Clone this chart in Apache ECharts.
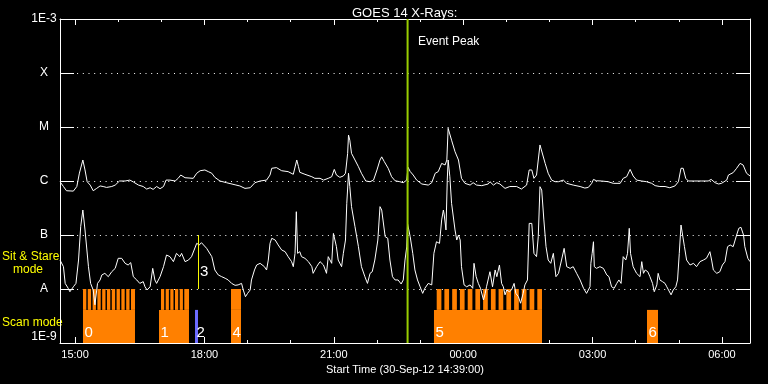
<!DOCTYPE html>
<html><head><meta charset="utf-8">
<script src="https://cdn.jsdelivr.net/npm/echarts@6/dist/echarts.min.js"></script>
<style>html,body{margin:0;padding:0;background:#000}#c{width:768px;height:384px}</style>
</head><body><div id="c"></div>
<script>
// Times are clock hours on 30-Sep-12 (values >24 are on 01-Oct-12)
const upperTime = [14.65,14.73,14.80,14.96,15.04,15.10,15.18,15.23,15.28,15.35,15.42,15.50,15.58,15.65,15.73,15.85,15.93,16.03,16.16,16.27,16.35,16.47,16.58,16.66,16.74,16.81,16.89,16.97,17.05,17.11,17.20,17.32,17.39,17.45,17.55,17.74,17.82,17.90,18.01,18.09,18.17,18.24,18.36,18.51,18.71,18.82,18.94,19.06,19.17,19.29,19.44,19.52,19.56,19.67,19.79,19.94,20.06,20.10,20.14,20.18,20.21,20.33,20.49,20.56,20.68,20.76,20.87,20.95,21.01,21.06,21.14,21.22,21.27,21.32,21.34,21.37,21.41,21.49,21.57,21.64,21.74,21.84,21.92,22.00,22.07,22.11,22.17,22.26,22.34,22.42,22.53,22.61,22.69,22.72,22.77,22.84,22.92,23.04,23.19,23.27,23.35,23.42,23.50,23.58,23.62,23.65,23.69,23.73,23.81,23.89,23.96,24.04,24.16,24.23,24.31,24.43,24.58,24.62,24.70,24.78,24.85,24.97,25.08,25.24,25.35,25.47,25.53,25.59,25.64,25.70,25.78,25.82,25.90,25.97,26.05,26.13,26.21,26.32,26.40,26.55,26.71,26.82,26.90,26.98,27.02,27.09,27.21,27.36,27.48,27.64,27.71,27.79,27.87,27.94,28.02,28.14,28.25,28.37,28.45,28.56,28.68,28.79,28.91,28.99,29.05,29.10,29.16,29.22,29.37,29.53,29.68,29.75,29.84,29.92,29.99,30.11,30.15,30.26,30.34,30.42,30.49,30.57,30.65];
const upperFlux = [9.7e-7,7.9e-7,6.6e-7,6.5e-7,7.9e-7,1.4e-6,2.45e-6,1.6e-6,9.7e-7,8.4e-7,6.6e-7,7.3e-7,8.1e-7,7.9e-7,7.6e-7,7.9e-7,8.4e-7,1.0e-6,1.0e-6,1.04e-6,9.6e-7,8.4e-7,7.9e-7,7.1e-7,7.5e-7,7.0e-7,7.9e-7,7.2e-7,7.9e-7,1.04e-6,1.04e-6,1.0e-6,1.12e-6,1.29e-6,1.15e-6,1.12e-6,1.39e-6,1.55e-6,1.6e-6,1.49e-6,1.39e-6,1.17e-6,1.0e-6,9.3e-7,8.5e-7,8.1e-7,7.3e-7,7.5e-7,9.3e-7,1.0e-6,1.04e-6,1.29e-6,1.72e-6,1.77e-6,1.55e-6,1.49e-6,1.33e-6,1.43e-6,2.45e-6,1.84e-6,1.45e-6,1.33e-6,1.2e-6,1.12e-6,1.12e-6,1.04e-6,1.12e-6,1.2e-6,1.64e-6,1.29e-6,1.17e-6,1.24e-6,1.39e-6,3.25e-6,7.1e-6,5.7e-6,3.25e-6,2.45e-6,1.84e-6,1.39e-6,1.0e-6,9.7e-7,1.04e-6,1.6e-6,2.45e-6,2.8e-6,2.28e-6,1.72e-6,1.2e-6,1.01e-6,9.7e-7,9.3e-7,1.04e-6,1.8e-6,1.5e-6,1.29e-6,1.04e-6,8.8e-7,8.4e-7,9.3e-7,1.39e-6,1.49e-6,2.12e-6,1.98e-6,2.45e-6,9.45e-6,8.8e-6,5.7e-6,3.49e-6,2.45e-6,1.12e-6,9.05e-7,8.4e-7,9.3e-7,8.4e-7,8.2e-7,8.8e-7,9.7e-7,8.4e-7,9.3e-7,8.8e-7,7.3e-7,7.9e-7,7.9e-7,7.1e-7,8.4e-7,1.6e-6,1.6e-6,1.12e-6,1.29e-6,4.65e-6,4.32e-6,2.12e-6,1.39e-6,1.04e-6,9.7e-7,9.7e-7,1.04e-6,9.05e-7,8.4e-7,7.9e-7,7.4e-7,7.6e-7,9.05e-7,1.07e-6,1.01e-6,1.0e-6,9.7e-7,9.05e-7,9.05e-7,1.12e-6,1.2e-6,1.64e-6,1.24e-6,1.04e-6,1.0e-6,9.7e-7,9.05e-7,8.2e-7,7.9e-7,7.9e-7,7.5e-7,8.1e-7,9.7e-7,1.72e-6,1.72e-6,1.12e-6,1.0e-6,1.0e-6,1.0e-6,1.0e-6,1.07e-6,9.3e-7,8.8e-7,9.05e-7,1.04e-6,1.29e-6,1.43e-6,1.72e-6,2.12e-6,1.98e-6,1.39e-6,1.24e-6];

const lowerTime = [14.65,14.73,14.77,14.84,14.88,14.96,15.02,15.08,15.13,15.18,15.23,15.31,15.36,15.42,15.46,15.52,15.58,15.62,15.69,15.77,15.85,15.93,16.00,16.08,16.16,16.23,16.29,16.35,16.43,16.50,16.58,16.62,16.67,16.74,16.80,16.85,16.89,16.97,17.05,17.12,17.20,17.28,17.35,17.43,17.47,17.55,17.63,17.70,17.82,17.88,17.93,18.05,18.17,18.24,18.32,18.40,18.48,18.55,18.63,18.71,18.78,18.86,18.90,18.95,19.00,19.06,19.09,19.16,19.21,19.29,19.33,19.39,19.44,19.48,19.52,19.56,19.64,19.71,19.79,19.87,19.94,20.02,20.06,20.10,20.13,20.16,20.21,20.25,20.33,20.41,20.49,20.52,20.60,20.68,20.76,20.83,20.87,20.91,20.95,20.99,21.03,21.06,21.10,21.14,21.18,21.22,21.27,21.30,21.34,21.37,21.41,21.49,21.57,21.64,21.72,21.78,21.84,21.89,21.95,22.02,22.07,22.11,22.19,22.25,22.30,22.36,22.42,22.49,22.56,22.61,22.65,22.69,22.71,22.77,22.83,22.88,22.94,23.00,23.06,23.11,23.19,23.27,23.32,23.38,23.45,23.50,23.54,23.56,23.60,23.63,23.65,23.69,23.73,23.81,23.85,23.89,23.93,23.96,24.02,24.08,24.16,24.22,24.25,24.30,24.35,24.40,24.47,24.51,24.54,24.62,24.68,24.74,24.78,24.84,24.89,24.93,24.97,25.01,25.07,25.12,25.18,25.22,25.28,25.33,25.39,25.43,25.49,25.53,25.59,25.64,25.70,25.74,25.78,25.82,25.87,25.92,25.97,26.03,26.09,26.15,26.21,26.28,26.34,26.40,26.48,26.55,26.63,26.71,26.79,26.82,26.86,26.90,26.94,26.96,26.99,27.02,27.04,27.09,27.17,27.25,27.33,27.38,27.44,27.50,27.56,27.61,27.66,27.71,27.77,27.81,27.85,27.88,27.94,28.02,28.10,28.14,28.18,28.22,28.28,28.33,28.39,28.43,28.49,28.52,28.56,28.62,28.68,28.72,28.76,28.82,28.87,28.93,28.97,29.01,29.05,29.08,29.13,29.18,29.26,29.34,29.41,29.49,29.57,29.64,29.72,29.76,29.80,29.88,29.95,30.01,30.07,30.13,30.19,30.26,30.34,30.39,30.44,30.50,30.53,30.60,30.65];
const lowerFlux = [3.44e-8,2.59e-8,1.27e-8,1.03e-8,8.9e-9,1.1e-8,1.27e-8,3.44e-8,1.43e-7,2.9e-7,1.24e-7,2.59e-8,1.27e-8,9.6e-9,5.1e-9,1.27e-8,1.47e-8,1.82e-8,1.95e-8,1.69e-8,2.09e-8,2.41e-8,3.7e-8,3.7e-8,2.99e-8,2.78e-8,3.08e-8,1.69e-8,1.47e-8,1.27e-8,1.37e-8,1.1e-8,9.6e-9,1.1e-8,2.41e-8,1.47e-8,1.27e-8,1.69e-8,2.59e-8,4.26e-8,3.97e-8,3.21e-8,4.57e-8,3.97e-8,4.57e-8,3.21e-8,3.44e-8,3.97e-8,7.01e-8,6.53e-8,7.21e-8,5.66e-8,3.97e-8,2.25e-8,1.82e-8,1.69e-8,1.58e-8,1.47e-8,1.27e-8,1.17e-8,1.19e-8,1.27e-8,9.6e-9,7.2e-9,8.3e-9,9.6e-9,1.47e-8,2.25e-8,2.78e-8,2.99e-8,3.21e-8,2.59e-8,2.25e-8,3.44e-8,7.0e-8,8.68e-8,8.07e-8,6.53e-8,5.28e-8,4.91e-8,3.97e-8,3.21e-8,2.59e-8,4.57e-8,2.7e-7,4.57e-8,4.91e-8,3.97e-8,3.7e-8,3.21e-8,2.59e-8,1.95e-8,2.59e-8,3.21e-8,2.78e-8,1.95e-8,3.97e-8,4.26e-8,2.99e-8,1.07e-7,1.15e-7,6.08e-8,3.44e-8,3.21e-8,2.59e-8,4.57e-8,8.07e-8,3.86e-7,1.39e-6,7.85e-7,3.35e-7,1.43e-7,6.08e-8,2.59e-8,1.69e-8,1.27e-8,1.95e-8,2.09e-8,3.44e-8,8.07e-8,3.35e-7,2.9e-7,9.3e-8,8.68e-8,3.44e-8,1.69e-8,1.47e-8,1.47e-8,1.24e-8,1.47e-8,3.44e-8,6.0e-8,1.6e-7,9.3e-8,4.57e-8,2.25e-8,1.47e-8,1.1e-8,8.3e-9,1.03e-8,1.27e-8,1.19e-8,4.57e-8,7.5e-8,7.0e-8,1.9e-7,2.9e-7,2.35e-7,1.24e-7,1.04e-6,2.45e-6,1.2e-6,3.86e-7,1.24e-7,8.07e-8,1.0e-7,8.07e-8,2.59e-8,1.19e-8,1.1e-8,1.19e-8,1.03e-8,2.99e-8,1.69e-8,1.27e-8,1.03e-8,6.26e-9,8.3e-9,1.1e-8,2.09e-8,1.1e-8,2.25e-8,1.69e-8,2.78e-8,1.27e-8,1.1e-8,7.8e-9,9.6e-9,8.9e-9,9.6e-9,1.27e-8,8.3e-9,7.2e-9,5.45e-9,8.3e-9,1.19e-8,1.47e-8,1.64e-7,1.64e-7,4.57e-8,3.97e-8,9.3e-8,7.85e-7,6.8e-7,1.9e-7,6.08e-8,3.44e-8,2.99e-8,4.57e-8,1.69e-8,1.95e-8,3.44e-8,5.66e-8,2.59e-8,2.41e-8,2.59e-8,1.95e-8,1.47e-8,1.03e-8,1.06e-8,8.3e-9,7.8e-9,1.1e-8,2.99e-8,4.57e-8,7.5e-8,2.59e-8,2.41e-8,2.59e-8,2.41e-8,1.82e-8,1.69e-8,1.1e-8,1.03e-8,1.27e-8,1.47e-8,1.27e-8,3.97e-8,3.44e-8,4.57e-8,1.33e-7,4.57e-8,2.59e-8,1.95e-8,1.69e-8,3.21e-8,1.95e-8,2.25e-8,2.09e-8,1.69e-8,1.27e-8,8.9e-9,1.19e-8,1.95e-8,1.47e-8,1.37e-8,1.27e-8,1.1e-8,9.6e-9,7.8e-9,9.6e-9,1.1e-8,1.47e-8,4.57e-8,1.53e-7,1.43e-7,6.08e-8,3.44e-8,2.78e-8,2.99e-8,2.59e-8,3.21e-8,3.44e-8,3.7e-8,4.91e-8,3.44e-8,2.25e-8,1.95e-8,2.09e-8,2.78e-8,3.21e-8,6.08e-8,6.53e-8,6.08e-8,1.0e-7,1.33e-7,1.39e-7,1.0e-7,6.08e-8,3.7e-8,3.21e-8];

// Scan-mode observations (lower band) with their ids
const scanLabels = ['0','1','2','4','5','6'];
const scanStart  = [15.183,16.946,17.780,18.615,23.322,28.262];
const scanEnd    = [16.389,17.641,17.850,18.847,25.827,28.517];
const scanColor  = ['#ff8000','#ff8000','#6b6bff','#ff8000','#ff8000','#ff8000'];
// Individual rasters (upper band)
const rasterStart = [15.183,15.294,15.406,15.517,15.628,15.739,15.851,15.962,16.073,16.185,16.296,
  16.992,17.101,17.208,17.317,17.426,17.532,
  18.615,
  23.385,23.563,23.744,23.923,24.104,24.282,24.461,24.642,24.820,25.001,25.180,25.358,25.539,25.718];
const rasterEnd = [15.260,15.371,15.483,15.594,15.705,15.816,15.928,16.039,16.150,16.262,16.389,
  17.066,17.175,17.282,17.391,17.500,17.641,
  18.847,
  23.494,23.672,23.853,24.032,24.213,24.391,24.570,24.751,24.929,25.110,25.289,25.467,25.648,25.827];
// Sit & stare observation
const sitLabels = ['3'];
const sitTime = [17.862];
const eventPeakTime = 22.71;

const yTickNames = ['1E-9','A','B','C','M','X','1E-3'];
const yTickValues = [1e-9,1e-8,1e-7,1e-6,1e-5,1e-4,1e-3];
const majorHours = [15,18,21,24,27,30];
const minorHours = [15,16,17,18,19,20,21,22,23,24,25,26,27,28,29,30];
const xMin = 14.65, xMax = 30.65;
const bandTop = 1e-8, bandMid = 4.1e-9, bandBottom = 1e-9;

const FONT = '"Liberation Sans", Arial, sans-serif';
const chart = echarts.init(document.getElementById('c'));

const upperData = upperTime.map((t,i)=>[t, upperFlux[i]]);
const lowerData = lowerTime.map((t,i)=>[t, lowerFlux[i]]);
const scanData = scanStart.map((s,i)=>[s, scanEnd[i], bandMid, bandBottom, i]);
const rasterData = rasterStart.map((s,i)=>[s, rasterEnd[i], bandTop, bandMid]);
const labelData = scanStart.map((s,i)=>[s, 1.55e-9, scanLabels[i]]).concat(sitTime.map((s,i)=>[s, 2.1e-8, sitLabels[i]]));

function hourLabel(v){ const h = Math.round(v) % 24; return (h<10?'0':'')+h+':00'; }
function yName(v){ const i = Math.round(Math.log10(v)) + 9; return yTickNames[i] || ''; }

function rectItem(params, api, fill){
  const p0 = api.coord([api.value(0), api.value(2)]);
  const p1 = api.coord([api.value(1), api.value(3)]);
  return {type:'rect', shape:{x:p0[0], y:p0[1], width:p1[0]-p0[0], height:p1[1]-p0[1]}, style:{fill:fill}};
}

const tickStyle = {color:'#fff', width:1};
function xAx(pos, major){
  return {type:'value', position:pos, min:xMin, max:xMax,
    axisLine:{show:major, lineStyle:tickStyle},
    axisTick:{show:true, inside:true, length: major?6:3, customValues: major?majorHours:minorHours, lineStyle:tickStyle},
    axisLabel:{show:false}, splitLine:{show:false}};
}
const xMain = xAx('bottom', true);
xMain.axisLabel = {show:true, customValues:majorHours, formatter:hourLabel, color:'#fff', fontSize:11, fontFamily:FONT, margin:6};
xMain.name = 'Start Time (30-Sep-12 14:39:00)';
xMain.nameLocation = 'middle';
xMain.nameGap = 18;
xMain.nameTextStyle = {color:'#fff', fontSize:11, fontFamily:FONT};

function yAx(pos){
  return {type:'log', logBase:10, min:bandBottom, max:1e-3, position:pos,
    axisLine:{show:true, lineStyle:tickStyle},
    axisTick:{show:true, inside:true, length:14, lineStyle:tickStyle},
    axisLabel:{show:pos==='left', formatter:yName, color:'#fff', fontSize:12, fontFamily:FONT, align:'center', margin:16,
      verticalAlignMinLabel:'bottom', verticalAlignMaxLabel:'top'},
    splitLine:{show:pos==='left', lineStyle:{color:'#fff', width:1, type:[1,4.7]}}};
}

const option = {
  backgroundColor:'#000',
  animation:false,
  title:{text:'GOES 14 X-Rays:', left:347, top:2, textStyle:{color:'#fff', fontSize:13, fontWeight:'normal', fontFamily:FONT}},
  grid:{left:60, right:18, top:19, bottom:41},
  xAxis:[xMain, xAx('bottom', false), xAx('top', true), xAx('top', false)],
  yAxis:[yAx('left'), yAx('right')],
  graphic:[
    {type:'text', left:2, top:251, style:{text:'Sit & Stare', fill:'#ffff00', font:'12px '+FONT}},
    {type:'text', left:13, top:264, style:{text:'mode', fill:'#ffff00', font:'12px '+FONT}},
    {type:'text', left:2, top:317, style:{text:'Scan mode', fill:'#ffff00', font:'12px '+FONT}},
    {type:'text', left:418, top:36, style:{text:'Event Peak', fill:'#ffffff', font:'12px '+FONT}}
  ],
  series:[
    {type:'custom', xAxisIndex:0, yAxisIndex:0, data:scanData, encode:{x:[0,1], y:[2,3]}, z:2,
     renderItem:(p,api)=>rectItem(p, api, scanColor[api.value(4)])},
    {type:'custom', xAxisIndex:0, yAxisIndex:0, data:rasterData, encode:{x:[0,1], y:[2,3]}, z:2,
     renderItem:(p,api)=>rectItem(p, api, '#ff8000')},
    {type:'line', xAxisIndex:0, yAxisIndex:0, data:upperData, symbol:'none', showSymbol:false, z:3,
     lineStyle:{color:'#fff', width:1}},
    {type:'line', xAxisIndex:0, yAxisIndex:0, data:lowerData, symbol:'none', showSymbol:false, z:3,
     lineStyle:{color:'#fff', width:1}},
    {type:'custom', xAxisIndex:0, yAxisIndex:0, data:sitTime.map(t=>[t, bandTop, 1e-7]), encode:{x:0, y:[1,2]}, z:4,
     renderItem:(p,api)=>{ const a=api.coord([api.value(0), api.value(1)]), b=api.coord([api.value(0), api.value(2)]);
       return {type:'line', shape:{x1:a[0], y1:a[1], x2:b[0], y2:b[1]}, style:{stroke:'#ffff00', lineWidth:1}}; }},
    {type:'custom', xAxisIndex:0, yAxisIndex:0, data:[[eventPeakTime, bandBottom, 1e-3]], encode:{x:0, y:[1,2]}, z:4,
     renderItem:(p,api)=>{ const a=api.coord([api.value(0), api.value(1)]), b=api.coord([api.value(0), api.value(2)]);
       return {type:'line', shape:{x1:a[0], y1:a[1], x2:b[0], y2:b[1]}, style:{stroke:'#99cc00', lineWidth:2}}; }},
    {type:'custom', xAxisIndex:0, yAxisIndex:0, data:labelData, encode:{x:0, y:1}, z:5,
     renderItem:(p,api)=>{ const a=api.coord([api.value(0), api.value(1)]);
       return {type:'text', x:a[0]+1.5, y:a[1], style:{text:labelData[p.dataIndex][2], fill:'#fff', font:'15px '+FONT, align:'left', verticalAlign:'middle'}}; }}
  ]
};
chart.setOption(option);
</script></body></html>
